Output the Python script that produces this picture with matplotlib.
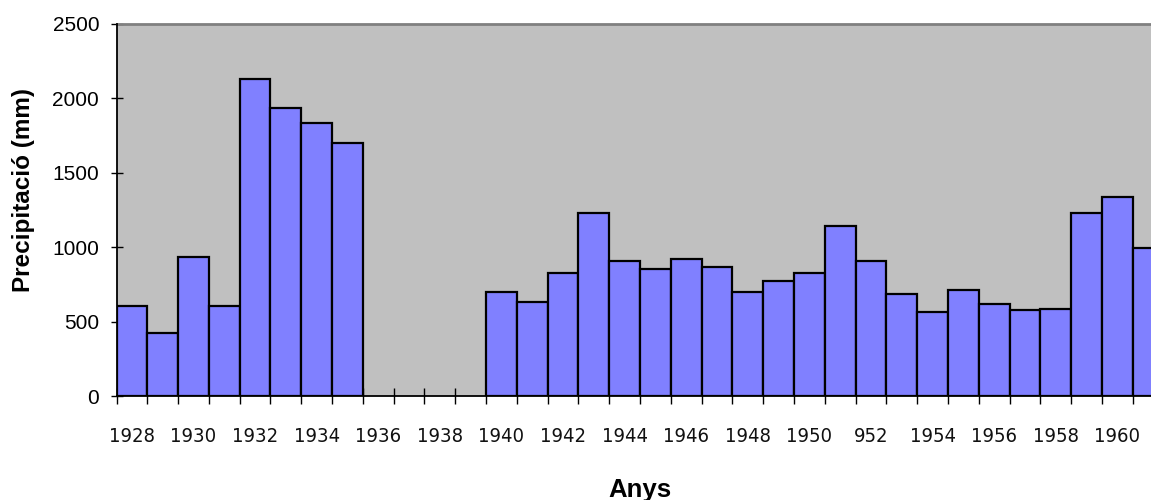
import numpy as np
import matplotlib.pyplot as plt
from matplotlib.ticker import FixedLocator

plt.rcParams['font.family'] = ['Liberation Sans', 'DejaVu Sans']

years = list(range(1928, 1962))
precip = [605, 425, 936, 605, 2128, 1935, 1835, 1698,
          None, None, None, None,
          701, 634, 827, 1228, 907, 853, 921, 869, 701, 771,
          827, 1145, 907, 688, 564, 715, 618, 576, 587, 1228, 1337, 992]
tick_labels = ['1928', '1930', '1932', '1934', '1936', '1938', '1940', '1942',
               '1944', '1946', '1948', '1950', '952', '1954', '1956', '1958', '1960']

idx = np.array([i for i, v in enumerate(precip) if v is not None])
vals = np.array([v for v in precip if v is not None])

fig = plt.figure(figsize=(11.51, 5.0), dpi=100)
ax = fig.add_axes([116.5 / 1151, 1 - 396 / 500, 1047 / 1151, 372 / 500])
ax.set_facecolor('#C0C0C0')

ax.bar(idx, vals, width=1.0, color='#8080FF', edgecolor='black', linewidth=1.6, zorder=3)

ax.set_xlim(-0.5, len(years) - 0.5)
ax.set_ylim(0, 2500)
ax.set_yticks([0, 500, 1000, 1500, 2000, 2500])

# labels under every other bar, tick marks on the bar edges
ax.set_xticks(np.arange(0, len(years), 2)[:len(tick_labels)])
ax.set_xticklabels(tick_labels, family=['Liberation Sans Narrow', 'DejaVu Sans'],
                   stretch='condensed', fontsize=14.5)
ax.xaxis.set_minor_locator(FixedLocator(np.arange(-0.5, len(years), 1.0)))
ax.tick_params(axis='x', which='major', length=0, pad=22, colors='#111111')
ax.tick_params(axis='x', which='minor', direction='inout', length=12, width=1, color='black')
ax.tick_params(axis='y', direction='inout', length=9, width=1, labelsize=15, pad=8, colors='black')

for s in ['left', 'bottom']:
    ax.spines[s].set_color('black')
    ax.spines[s].set_linewidth(1.3)
    ax.spines[s].set_zorder(4)
ax.spines['top'].set_color('#808080')
ax.spines['top'].set_linewidth(2)
ax.spines['right'].set_visible(False)

ax.set_ylabel('Precipitació (mm)', fontsize=17.5, fontweight='bold')
ax.yaxis.set_label_coords(-0.0778, 0.554)
ax.set_xlabel('Anys', fontsize=18.5, fontweight='bold')
ax.xaxis.set_label_coords(0.5, -0.221)

fig.savefig('out.png', dpi=100)
